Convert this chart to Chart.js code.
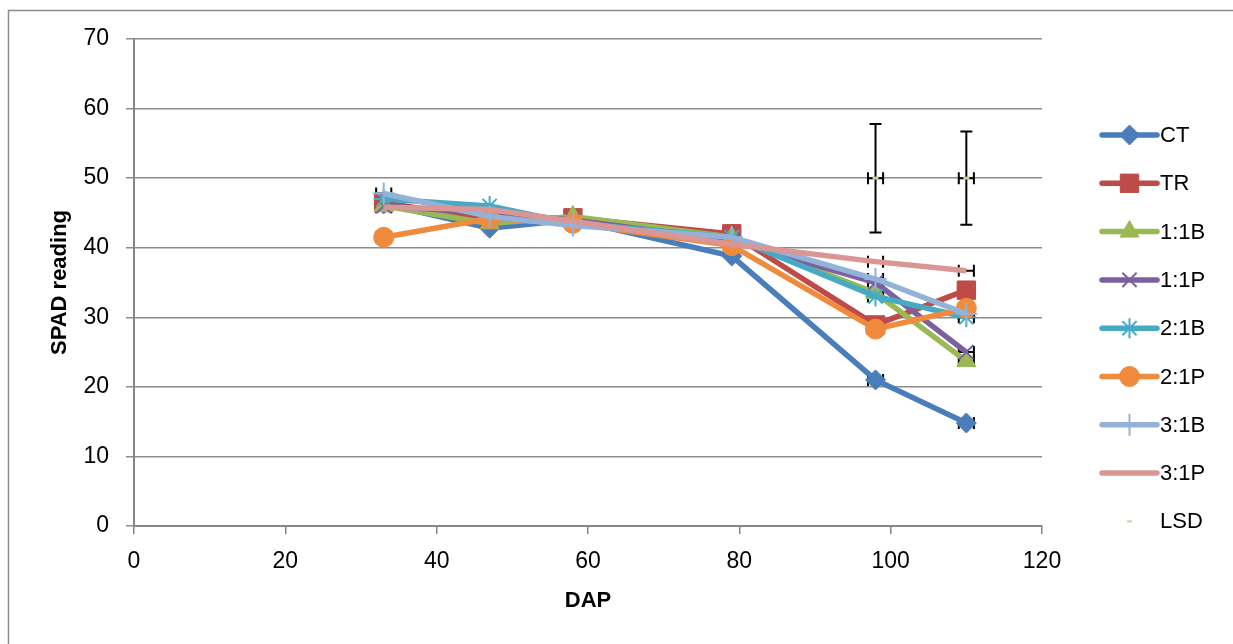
<!DOCTYPE html>
<html><head><meta charset="utf-8">
<script src="https://cdn.jsdelivr.net/npm/chart.js@4/dist/chart.umd.min.js"></script>
<style>html,body{margin:0;padding:0;background:#fff}#wrap{width:1233px;height:644px;position:relative}</style>
</head><body><div id="wrap"><canvas id="c" width="1233" height="644"></canvas></div>
<script>
const dap = [33, 47, 58, 79, 98, 110];
const seriesNames = ['CT','TR','1:1B','1:1P','2:1B','2:1P','3:1B','3:1P'];
const ct   = [46.3, 42.8, 44.0, 38.8, 21.0, 14.8];
const tr   = [46.5, 44.0, 44.3, 42.0, 28.9, 33.9];
const b11  = [46.0, 43.5, 44.5, 41.5, 33.5, 23.7];
const p11  = [46.0, 45.0, 44.0, 41.0, 35.0, 25.0];
const b21  = [47.0, 46.0, 43.5, 41.5, 33.0, 30.0];
const p21  = [41.5, 44.2, 43.5, 40.3, 28.3, 31.3];
const b31  = [47.8, 44.5, 43.2, 41.5, 35.5, 30.5];
const p31  = [45.8, 45.5, 43.8, 40.5, 38.0, 36.7];
const xErr = [1, 0, 0, 0, 1, 1];
const lsdX = [98, 110];
const lsdY = [50, 50];
const lsdYErr = [7.8, 6.7];
const lsdXErr = [1, 1];
const xTicks = [0, 20, 40, 60, 80, 100, 120];
const yTicks = [0, 10, 20, 30, 40, 50, 60, 70];

const allVals = [ct, tr, b11, p11, b21, p21, b31, p31];
const colors = ['#4A7EBB','#BE4B48','#98B954','#7D60A0','#46AAC5','#F08A3C','#93B2D8','#D99694'];
const styles = ['rectRot','rect','triangle','crossRot','star','circle','cross', false];
const radii  = [10, 13, 11, 10, 10, 10, 11, 0];
const FONT = "'Liberation Sans', Arial, sans-serif";

const datasets = allVals.map((v, i) => ({
  label: seriesNames[i],
  data: v.map((y, j) => ({x: dap[j], y: y})),
  borderColor: colors[i],
  backgroundColor: colors[i],
  borderWidth: 5.5,
  pointStyle: styles[i] || 'circle',
  pointRadius: radii[i],
  pointBorderWidth: (styles[i] === 'crossRot' || styles[i] === 'star' || styles[i] === 'cross') ? 2 : 1,
  pointBorderColor: colors[i],
  pointBackgroundColor: colors[i],
  tension: 0,
  order: 10 - i,
  xErr: xErr
}));
datasets.push({
  label: 'LSD',
  data: lsdX.map((x, j) => ({x: x, y: lsdY[j]})),
  showLine: false,
  pointStyle: 'line',
  pointRadius: 3,
  borderColor: '#C3D69B',
  backgroundColor: '#C3D69B',
  pointBorderWidth: 3,
  order: 0,
  isLSD: true
});

function drawErr(ctx, chart, x, y, xe, ye) {
  const sx = chart.scales.x, sy = chart.scales.y;
  const px = sx.getPixelForValue(x), py = sy.getPixelForValue(y);
  ctx.save();
  ctx.strokeStyle = '#000';
  ctx.lineWidth = 2;
  if (xe) {
    const l = sx.getPixelForValue(x - xe), r = sx.getPixelForValue(x + xe);
    ctx.beginPath();
    ctx.moveTo(l, py); ctx.lineTo(r, py);
    ctx.moveTo(l, py - 6); ctx.lineTo(l, py + 6);
    ctx.moveTo(r, py - 6); ctx.lineTo(r, py + 6);
    ctx.stroke();
  }
  if (ye) {
    const t = sy.getPixelForValue(y + ye), b = sy.getPixelForValue(y - ye);
    ctx.beginPath();
    ctx.moveTo(px, t); ctx.lineTo(px, b);
    ctx.moveTo(px - 6, t); ctx.lineTo(px + 6, t);
    ctx.moveTo(px - 6, b); ctx.lineTo(px + 6, b);
    ctx.stroke();
  }
  ctx.restore();
}

const errPlugin = {
  id: 'errbars',
  beforeDatasetsDraw(chart) {
    const ctx = chart.ctx;
    chart.data.datasets.forEach(ds => {
      if (ds.isLSD) return;
      ds.data.forEach((p, j) => { if (ds.xErr[j]) drawErr(ctx, chart, p.x, p.y, ds.xErr[j], 0); });
    });
  },
  afterDatasetsDraw(chart) {
    const ctx = chart.ctx;
    chart.data.datasets.forEach(ds => {
      if (!ds.isLSD) return;
      ds.data.forEach((p, j) => drawErr(ctx, chart, p.x, p.y, lsdXErr[j], lsdYErr[j]));
    });
    const meta = chart.getDatasetMeta(chart.data.datasets.length - 1);
    meta.data.forEach(pt => {
      ctx.save(); ctx.strokeStyle = '#C3D69B'; ctx.lineWidth = 3;
      ctx.beginPath(); ctx.moveTo(pt.x - 3, pt.y); ctx.lineTo(pt.x + 3, pt.y); ctx.stroke(); ctx.restore();
    });
  },
  afterDraw(chart) {
    const ctx = chart.ctx;
    ctx.save();
    ctx.strokeStyle = '#8c8c8c'; ctx.lineWidth = 1.5;
    ctx.strokeRect(8.5, 10.5, 1240, 650);
    const x0 = 1102, x1 = 1157, tx = 1160;
    const y0 = 135, dy = 48.3;
    chart.data.datasets.forEach((ds, i) => {
      const y = y0 + i * dy;
      if (ds.isLSD) {
        ctx.strokeStyle = '#C3D69B'; ctx.lineWidth = 2;
        ctx.beginPath(); ctx.moveTo(1127, y); ctx.lineTo(1132, y); ctx.stroke();
      } else {
        ctx.strokeStyle = ds.borderColor; ctx.lineWidth = 5.5; ctx.lineCap = 'round';
        ctx.beginPath(); ctx.moveTo(x0, y); ctx.lineTo(x1, y); ctx.stroke();
        ctx.lineCap = 'butt';
        if (styles[i]) {
          ctx.fillStyle = ds.pointBackgroundColor; ctx.strokeStyle = ds.pointBorderColor;
          ctx.lineWidth = ds.pointBorderWidth;
          Chart.helpers.drawPoint(ctx, {pointStyle: styles[i], radius: radii[i], rotation: 0, borderWidth: ds.pointBorderWidth}, 1129.5, y);
        }
      }
      ctx.fillStyle = '#000'; ctx.font = '22px ' + FONT;
      ctx.textBaseline = 'middle'; ctx.textAlign = 'left';
      ctx.fillText(ds.label, tx, y + 1);
    });
    ctx.restore();
  }
};

new Chart(document.getElementById('c'), {
  type: 'line',
  data: {datasets: datasets},
  options: {
    responsive: false,
    animation: false,
    events: [],
    layout: {padding: {left: 40, right: 191, top: 39, bottom: 20}},
    plugins: {legend: {display: false}, tooltip: {enabled: false}},
    scales: {
      x: {
        type: 'linear', min: 0, max: 120,
        afterBuildTicks: s => { s.ticks = xTicks.map(v => ({value: v})); },
        afterFit: s => { s.height = 644 - 526 - 20; },
        grid: {drawOnChartArea: false, drawTicks: true, tickLength: 8, color: '#868686', lineWidth: 1.5},
        border: {color: '#868686', width: 2},
        ticks: {color: '#000', font: {size: 23, family: FONT}, padding: 14, maxRotation: 0},
        title: {display: true, text: 'DAP', color: '#000', font: {size: 22, weight: 'bold', family: FONT}, padding: {top: 4, bottom: 10}}
      },
      y: {
        min: 0, max: 70,
        afterBuildTicks: s => { s.ticks = yTicks.map(v => ({value: v})); },
        afterFit: s => { s.width = 134 - 40; },
        grid: {color: '#8c8c8c', lineWidth: 1.5, tickLength: 8},
        border: {color: '#868686', width: 2},
        ticks: {color: '#000', font: {size: 23, family: FONT}, padding: 17},
        title: {display: true, text: 'SPAD reading', color: '#000', font: {size: 22, weight: 'bold', family: FONT}, padding: {top: 6.5, bottom: 4}}
      }
    }
  },
  plugins: [errPlugin]
});
</script>
</body></html>
